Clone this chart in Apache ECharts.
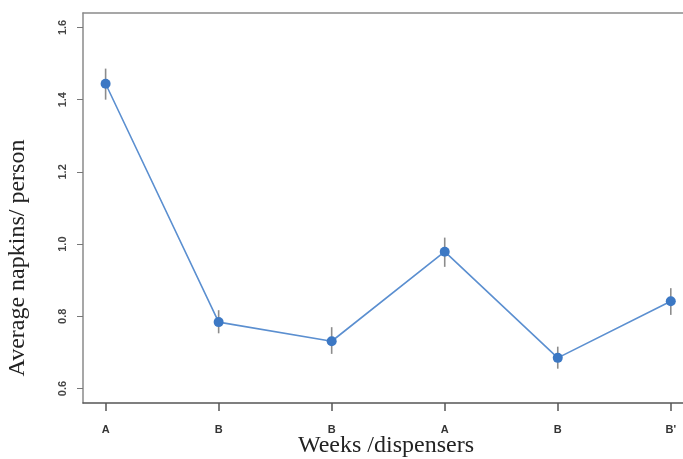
<!DOCTYPE html>
<html>
<head>
<meta charset="utf-8">
<script src="https://cdn.jsdelivr.net/npm/echarts@6/dist/echarts.min.js"></script>
<style>html,body{margin:0;padding:0;background:#fff}#c{width:683px;height:459px}</style>
</head>
<body>
<div id="c"></div>
<script>
var categories = ["A", "B", "B", "A", "B", "B'"];
var means = [1.444, 0.784, 0.731, 0.979, 0.685, 0.842];
var lower = [1.400, 0.753, 0.696, 0.937, 0.655, 0.804];
var upper = [1.486, 0.817, 0.770, 1.018, 0.716, 0.878];
var yTicks = [0.6, 0.8, 1.0, 1.2, 1.4, 1.6];
var xTicks = [0, 1, 2, 3, 4, 5];
var xTitle = "Weeks /dispensers";
var yTitle = "Average napkins/ person";

var chart = echarts.init(document.getElementById('c'), null, {renderer: 'canvas'});
var lineData = means.map(function (m, i) { return [i, m]; });
var errData = means.map(function (m, i) { return [i, lower[i], upper[i]]; });

chart.setOption({
  animation: false,
  grid: {left: 83, top: 13, right: 0, height: 390, show: false},
  xAxis: [{
    type: 'value', min: -0.2, max: 5.108,
    splitLine: {show: false},
    axisLine: {show: true, onZero: false, lineStyle: {color: '#555', width: 1.5}},
    axisTick: {show: true, length: 8, customValues: xTicks, lineStyle: {color: '#555', width: 1.5}},
    axisLabel: {customValues: xTicks, margin: 21, fontFamily: 'Liberation Sans', fontWeight: 'bold', fontSize: 11, color: '#333',
      formatter: function (v) { return categories[Math.round(v)]; }}
  }, {
    type: 'value', min: -0.2, max: 5.108, position: 'top',
    splitLine: {show: false},
    axisLine: {show: true, onZero: false, lineStyle: {color: '#8a8a8a', width: 1.5}},
    axisTick: {show: false},
    axisLabel: {show: false}
  }],
  yAxis: {
    type: 'value', min: 0.56, max: 1.64,
    splitLine: {show: false},
    axisLine: {show: true, onZero: false, lineStyle: {color: '#8a8a8a', width: 1.5}},
    axisTick: {show: true, length: 6, customValues: yTicks, lineStyle: {color: '#777', width: 1}},
    axisLabel: {customValues: yTicks, rotate: 90, margin: 15, fontFamily: 'Liberation Sans', fontWeight: 'bold', fontSize: 11, color: '#444',
      formatter: function (v) { return v.toFixed(1); }}
  },
  graphic: [
    {type: 'text', x: 386, y: 434, style: {text: xTitle, font: '24px "Liberation Serif"', fill: '#222', align: 'center', verticalAlign: 'top'}},
    {type: 'text', x: 6, y: 258, rotation: Math.PI / 2, style: {text: yTitle, font: '24px "Liberation Serif"', fill: '#222', align: 'center', verticalAlign: 'top'}}
  ],
  series: [
    {
      type: 'custom',
      data: errData,
      z: 1,
      renderItem: function (params, api) {
        var x = api.value(0);
        var p1 = api.coord([x, api.value(1)]);
        var p2 = api.coord([x, api.value(2)]);
        return {type: 'line', shape: {x1: p1[0], y1: p1[1], x2: p2[0], y2: p2[1]}, style: {stroke: '#8c8c8c', lineWidth: 1.6}};
      }
    },
    {
      type: 'line',
      data: lineData,
      z: 2,
      symbol: 'circle',
      symbolSize: 10,
      lineStyle: {color: '#5b8fd0', width: 1.6},
      itemStyle: {color: '#3c78c4'}
    }
  ]
});
</script>
</body>
</html>
